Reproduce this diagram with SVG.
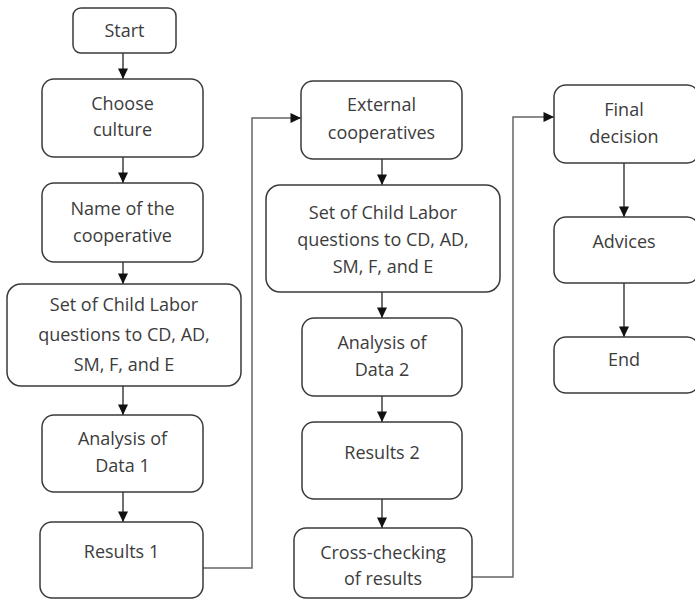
<svg xmlns="http://www.w3.org/2000/svg" width="695" height="600" viewBox="0 0 695 600">
<style>
.box{fill:#fff;stroke:#3a3a3a;stroke-width:1.5}
.t{font-family:"Open Sans","Liberation Sans",sans-serif;font-size:18px;fill:#3c3c3c;text-anchor:middle}
.c{fill:none;stroke:#222;stroke-width:1.3}
.g{fill:none;stroke:#666;stroke-width:1.5}
</style>
<defs>
<marker id="ah" markerUnits="userSpaceOnUse" markerWidth="12" markerHeight="12" refX="11" refY="6" orient="auto">
<path d="M0.5,1 L11,6 L0.5,11 z" fill="#111"/>
</marker>
</defs>
<rect width="695" height="600" fill="#fff"/>
<g id="connectors">
<line class="c" x1="123" y1="53" x2="123" y2="79" marker-end="url(#ah)"/>
<line class="c" x1="123" y1="157" x2="123" y2="183" marker-end="url(#ah)"/>
<line class="c" x1="123" y1="262" x2="123" y2="284" marker-end="url(#ah)"/>
<line class="c" x1="123" y1="386" x2="123" y2="415" marker-end="url(#ah)"/>
<line class="c" x1="123" y1="492" x2="123" y2="522" marker-end="url(#ah)"/>
<polyline class="g" points="203,568 252,568 252,118 301,118" marker-end="url(#ah)"/>
<line class="c" x1="382" y1="159" x2="382" y2="185" marker-end="url(#ah)"/>
<line class="c" x1="382" y1="292" x2="382" y2="318" marker-end="url(#ah)"/>
<line class="c" x1="382" y1="396" x2="382" y2="422" marker-end="url(#ah)"/>
<line class="c" x1="382" y1="499" x2="382" y2="528" marker-end="url(#ah)"/>
<polyline class="g" points="472,577 513,577 513,117 554,117" marker-end="url(#ah)"/>
<line class="c" x1="624" y1="163" x2="624" y2="217" marker-end="url(#ah)"/>
<line class="c" x1="624" y1="283" x2="624" y2="337" marker-end="url(#ah)"/>
</g>
<g id="start"><rect class="box" x="73" y="8" width="103" height="45" rx="8"/><text class="t" x="124.5" y="37">Start</text></g>
<g id="choose"><rect class="box" x="42" y="79" width="161" height="78" rx="12"/><text class="t" x="122.5" y="110">Choose</text><text class="t" x="122.5" y="136">culture</text></g>
<g id="name"><rect class="box" x="42" y="183" width="161" height="79" rx="12"/><text class="t" x="122.5" y="215">Name of the</text><text class="t" x="122.5" y="242">cooperative</text></g>
<g id="set1"><rect class="box" x="7" y="284" width="234" height="102" rx="14"/><text class="t" x="124" y="311">Set of Child Labor</text><text class="t" x="124" y="341">questions to CD, AD,</text><text class="t" x="124" y="371">SM, F, and E</text></g>
<g id="analysis1"><rect class="box" x="42" y="415" width="161" height="77" rx="12"/><text class="t" x="122.5" y="445">Analysis of</text><text class="t" x="122.5" y="472">Data 1</text></g>
<g id="results1"><rect class="box" x="40" y="522" width="163" height="76" rx="12"/><text class="t" x="121.5" y="558">Results 1</text></g>
<g id="external"><rect class="box" x="301" y="81" width="161" height="78" rx="12"/><text class="t" x="381.5" y="111">External</text><text class="t" x="381.5" y="139">cooperatives</text></g>
<g id="set2"><rect class="box" x="266" y="185" width="234" height="107" rx="14"/><text class="t" x="383" y="219">Set of Child Labor</text><text class="t" x="383" y="246">questions to CD, AD,</text><text class="t" x="383" y="273">SM, F, and E</text></g>
<g id="analysis2"><rect class="box" x="302" y="318" width="160" height="78" rx="12"/><text class="t" x="382" y="349">Analysis of</text><text class="t" x="382" y="376">Data 2</text></g>
<g id="results2"><rect class="box" x="302" y="422" width="160" height="77" rx="12"/><text class="t" x="382" y="459">Results 2</text></g>
<g id="crosscheck"><rect class="box" x="294" y="528" width="178" height="70" rx="12"/><text class="t" x="383" y="559">Cross-checking</text><text class="t" x="383" y="585">of results</text></g>
<g id="final"><rect class="box" x="554" y="85" width="145" height="78" rx="12"/><text class="t" x="624" y="116">Final</text><text class="t" x="624" y="143">decision</text></g>
<g id="advices"><rect class="box" x="554" y="217" width="145" height="66" rx="12"/><text class="t" x="624" y="248">Advices</text></g>
<g id="end"><rect class="box" x="554" y="337" width="145" height="56" rx="12"/><text class="t" x="624" y="366">End</text></g>
</svg>
